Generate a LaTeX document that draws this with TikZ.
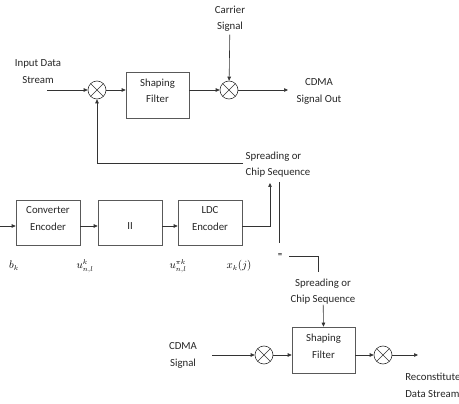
\documentclass[tikz,border=0pt]{standalone}
\usepackage{fontspec}
\setmainfont{Carlito}
\usetikzlibrary{arrows.meta}
\begin{document}
\begin{tikzpicture}[x=1pt,y=-1pt,line width=0.6pt,
 lbl/.style={align=center,font=\fontsize{10.8}{16.5}\selectfont,inner sep=0pt,text=black!85},
 mth/.style={font=\fontsize{10.5}{12}\selectfont,inner sep=0pt},
 blk/.style={draw=black!65,minimum width=63pt,minimum height=46pt,inner sep=0pt},
 mix/.style={circle,draw=black!80,minimum size=18pt,inner sep=0pt,
   path picture={\draw[black!80] (path picture bounding box.north west)--(path picture bounding box.south east)
     (path picture bounding box.north east)--(path picture bounding box.south west);}},
 arr/.style={-{Triangle[length=4pt,width=3.5pt]}},
 ln/.style={draw=black!80}]
\useasboundingbox (0,0) rectangle (459,404);
% top row
\node[lbl] (in) at (38,71.5) {Input Data\\Stream};
\coordinate (i0) at (47,90);
\node[mix] (m1) at (97,90) {};
\node[blk] (sf1) at (157.5,95) {};
\node[lbl] (sf1t) at (157.5,91) {Shaping\\Filter};
\node[mix] (m2) at (229,90) {};
\node[lbl] (car) at (230,18.5) {Carrier\\Signal};
\node[lbl] (out) at (319,91.5) {CDMA\\Signal Out};
\coordinate (o) at (288,90);
\draw[ln,arr] (i0) -- (m1);
\draw[ln,arr] (m1) -- (sf1.west |- m1);
\draw[ln,arr] (sf1.east |- m2) -- (m2);
\draw[ln,arr,shorten <=3pt] (car) -- (m2);
\draw[ln,arr] (m2) -- (o);
\node[lbl,align=left] (sp1) at (278,164.5) {Spreading or\\Chip Sequence};
\coordinate (fb) at (243,163);
\draw[ln,arr] (fb) -| (m1.south);
% middle row
\node[blk,minimum width=64pt,minimum height=45pt] (ce) at (48,222.5) {};
\node[lbl] (cet) at (48,218.5) {Converter\\Encoder};
\node[blk,minimum width=64pt,minimum height=45pt] (ii) at (130,222.5) {};
\node[lbl] (iit) at (130,226) {II};
\node[blk,minimum width=64pt,minimum height=45pt] (ldc) at (210,222.5) {};
\node[lbl] (ldct) at (210,218.5) {LDC\\Encoder};
\coordinate (b0) at (0,226);
\coordinate (up) at (270,183);
\draw[ln,arr] (b0) -- (ce.west |- b0);
\draw[ln,arr] (ce.east |- b0) -- (ii.west |- b0);
\draw[ln,arr] (ii.east |- b0) -- (ldc.west |- b0);
\draw[ln,arr] (ldc.east |- b0) -| (up);
\coordinate (v1) at (279,182);
\coordinate (v2) at (279,243);
\draw[ln] (v1) -- (v2);
\node[font=\fontsize{9}{10}\selectfont,inner sep=0pt] (eq) at (280,256) {=};
\coordinate (e1) at (289,256);
\coordinate (e2) at (318,272);
\draw[ln] (e1) -| (e2);
\node[mth] (lb) at (14,266) {$b_k$};
\node[mth] (lu) at (85,266) {$u^{k}_{n,l}$};
\node[mth] (lp) at (178,266) {$u^{\pi k}_{n,l}$};
\node[mth] (lx) at (239,266) {$x_k(j)$};
% bottom row
\node[lbl] (sp2) at (323,291.5) {Spreading or\\Chip Sequence};
\node[blk] (sf2) at (323.5,350) {};
\node[lbl] (sf2t) at (323.5,346.5) {Shaping\\Filter};
\node[lbl] (cdma) at (183,355.5) {CDMA\\Signal};
\node[mix] (m3) at (264,355) {};
\node[mix] (m4) at (383,355) {};
\coordinate (c0) at (212,355);
\coordinate (r) at (418,355);
\draw[ln,arr] (sp2) -- (sf2.north);
\draw[ln,arr] (c0) -- (m3);
\draw[ln,arr] (m3) -- (sf2.west |- m3);
\draw[ln,arr] (sf2.east |- m4) -- (m4);
\draw[ln,arr] (m4) -- (r);
\node[lbl,anchor=west,align=left] (rec) at (405,385.5) {Reconstitute\\Data Stream};
\end{tikzpicture}
\end{document}
